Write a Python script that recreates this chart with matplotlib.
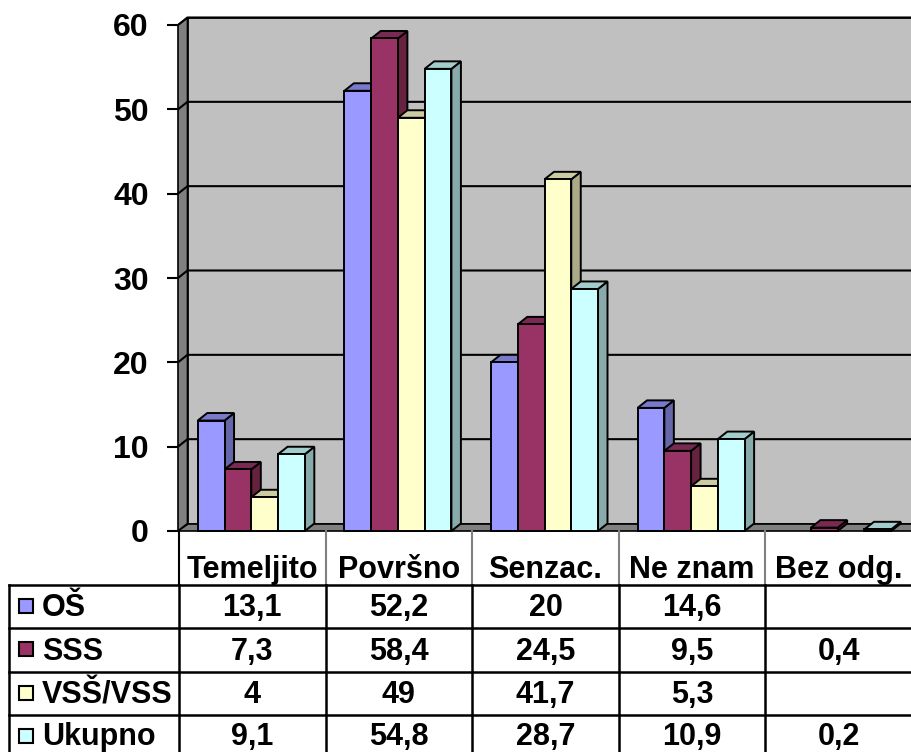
import matplotlib

matplotlib.use("Agg")
import matplotlib.pyplot as plt
from matplotlib.patches import Polygon, Rectangle

categories = ["Temeljito", "Površno", "Senzac.", "Ne znam", "Bez odg."]
series = ["OŠ", "SSS", "VSŠ/VSS", "Ukupno"]
os_vals = [13.1, 52.2, 20, 14.6, None]
sss_vals = [7.3, 58.4, 24.5, 9.5, 0.4]
vss_vals = [4, 49, 41.7, 5.3, None]
ukupno_vals = [9.1, 54.8, 28.7, 10.9, 0.2]
y_ticks = [0, 10, 20, 30, 40, 50, 60]

values = [os_vals, sss_vals, vss_vals, ukupno_vals]
front_cols = ["#9999FF", "#993366", "#FFFFCC", "#CCFFFF"]
side_cols = ["#6666AA", "#66223F", "#AAAA88", "#88AAAA"]
top_cols = ["#7A7ACC", "#7A2952", "#CCCCA3", "#A3CCCC"]

FONT = "Liberation Sans"
W, H = 911, 752

fig = plt.figure(figsize=(W / 100, H / 100), dpi=100)

# chart axes: front plane of the 3d box
ax_l, ax_r, ax_b, ax_t = 178, 911, 531, 25
ax = fig.add_axes([ax_l / W, (H - ax_b) / H, (ax_r - ax_l) / W, (ax_b - ax_t) / H])
ncat = len(categories)
ymax = 60
ax.set_xlim(0, ncat)
ax.set_ylim(0, ymax)
ax.patch.set_visible(False)
for s in ax.spines.values():
    s.set_visible(False)
ax.set_xticks([])
ax.set_yticks(y_ticks)
ax.set_yticklabels([str(t) for t in y_ticks], fontfamily=FONT, fontweight="bold")
ax.tick_params(axis="y", length=8, width=1.5, direction="out", pad=13, labelsize=23)

# depth offset in data units
px_x = ncat / (ax_r - ax_l)
px_y = ymax / (ax_b - ax_t)
DX = 9.5 * px_x
DY = 7.5 * px_y

# walls
ax.add_patch(Polygon([(DX, DY), (ncat + DX, DY), (ncat + DX, ymax + DY), (DX, ymax + DY)],
                     closed=True, fc="#C0C0C0", ec="black", lw=1.2, clip_on=False, zorder=1))
ax.add_patch(Polygon([(0, 0), (DX, DY), (DX, ymax + DY), (0, ymax)],
                     closed=True, fc="#808080", ec="black", lw=1.2, clip_on=False, zorder=1))
ax.add_patch(Polygon([(0, 0), (ncat + DX, 0), (ncat + DX, DY), (DX, DY)],
                     closed=True, fc="#808080", ec="black", lw=1.2, clip_on=False, zorder=1))
for v in y_ticks[1:]:
    ax.plot([0, DX, ncat + DX], [v, v + DY, v + DY], color="black", lw=1.5,
            clip_on=False, zorder=2, solid_capstyle="butt")

# 3d bars, drawn left to right so each covers the side of the previous one
bw = 0.1825
gap = (1 - bw * len(series)) / 2
z = 3.0
for i in range(ncat):
    for j, vals in enumerate(values):
        h = vals[i]
        if h is None:
            continue
        x0 = i + gap + j * bw
        x1 = x0 + bw
        kw = dict(closed=True, ec="black", lw=1.4, clip_on=False, joinstyle="miter")
        z += 0.01
        ax.add_patch(Polygon([(x1, 0), (x1 + DX, DY), (x1 + DX, h + DY), (x1, h)],
                             fc=side_cols[j], zorder=z, **kw))
        ax.add_patch(Polygon([(x0, h), (x1, h), (x1 + DX, h + DY), (x0 + DX, h + DY)],
                             fc=top_cols[j], zorder=z, **kw))
        ax.add_patch(Polygon([(x0, 0), (x1, 0), (x1, h), (x0, h)],
                             fc=front_cols[j], zorder=z, **kw))

# data table below the chart, in pixel coordinates
tab = fig.add_axes([0, 0, 1, 1])
tab.set_xlim(0, W)
tab.set_ylim(H, 0)
tab.axis("off")
tab.patch.set_visible(False)

cw = (ax_r - ax_l) / ncat
col_edges = [ax_l + 1 + k * cw for k in range(ncat + 1)]
row_edges = [584.5, 628, 671.5, 715, 758.5]
head_top = ax_b
label_left = 9

# header row lines (grey)
for k, x in enumerate(col_edges[:-1]):
    tab.plot([x, x], [head_top, row_edges[0]], color="black" if k == 0 else "#808080", lw=1.5)
# body lines
for y in row_edges[:-1]:
    tab.plot([label_left, W], [y, y], color="black", lw=1.8)
for x in [label_left] + col_edges[:-1]:
    tab.plot([x, x], [row_edges[0], H], color="black", lw=1.8)

tfs = 22
for k, cat in enumerate(categories):
    tab.text((col_edges[k] + col_edges[k + 1]) / 2, 578, cat, ha="center", va="baseline",
             fontsize=tfs, fontweight="bold", fontfamily=FONT)

for r, (name, vals) in enumerate(zip(series, values)):
    mid = (row_edges[r] + row_edges[r + 1]) / 2
    base = min(mid + 10, 744.5)
    tab.add_patch(Rectangle((19, mid - 7.5), 14, 14, fc=front_cols[r], ec="black", lw=1.5))
    tab.text(42, base, name, ha="left", va="baseline", fontsize=tfs,
             fontweight="bold", fontfamily=FONT)
    for k, v in enumerate(vals):
        if v is None:
            continue
        label = f"{v:g}".replace(".", ",")
        tab.text((col_edges[k] + col_edges[k + 1]) / 2, base, label, ha="center",
                 va="baseline", fontsize=tfs, fontweight="bold", fontfamily=FONT)

fig.savefig("out.png", dpi=100)
